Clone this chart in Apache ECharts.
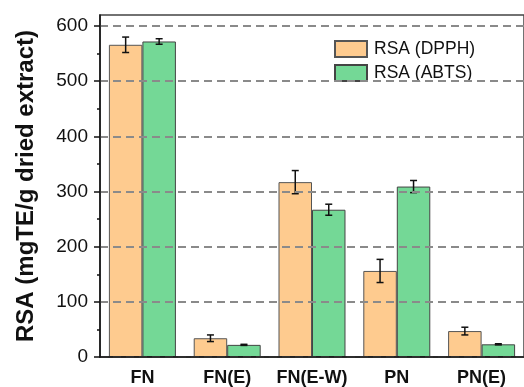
<!DOCTYPE html>
<html><head><meta charset="utf-8">
<script src="https://cdn.jsdelivr.net/npm/echarts@6/dist/echarts.min.js"></script>
<style>html,body{margin:0;padding:0;background:#fff}#c{width:524px;height:387px}</style>
</head><body><div id="c"></div>
<script>
var categories = ['FN', 'FN(E)', 'FN(E-W)', 'PN', 'PN(E)'];
var dpph = [566, 34, 317, 156, 47];
var dpphErr = [14, 6, 21, 21, 7];
var abts = [572, 22, 267, 309, 23];
var abtsErr = [5, 1, 10, 11, 1];
var majorTicks = [0, 100, 200, 300, 400, 500, 600];
var minorTicks = [50, 150, 250, 350, 450, 550];

var chart = echarts.init(document.getElementById('c'), null, {renderer: 'canvas'});
var BW = 0.395;
function errSeries(vals, errs, side) {
  return {
    type: 'custom',
    xAxisIndex: 0, yAxisIndex: 0,
    z: 5,
    silent: true,
    data: vals.map(function (v, i) { return [i, v, errs[i]]; }),
    renderItem: function (params, api) {
      var i = api.value(0), v = api.value(1), e = api.value(2);
      var band = api.size([1, 0])[0];
      var off = side * band * BW / 2;
      var top = api.coord([i, v + e]);
      var bot = api.coord([i, v - e]);
      var x = top[0] + off;
      var cw = 3.5;
      var st = {stroke: '#111', lineWidth: 1.5};
      return {type: 'group', children: [
        {type: 'line', shape: {x1: x, y1: top[1], x2: x, y2: bot[1]}, style: st},
        {type: 'line', shape: {x1: x - cw, y1: top[1], x2: x + cw, y2: top[1]}, style: st},
        {type: 'line', shape: {x1: x - cw, y1: bot[1], x2: x + cw, y2: bot[1]}, style: st}
      ]};
    }
  };
}
chart.setOption({
  animation: false,
  backgroundColor: '#fff',
  grid: {left: 100, top: 15, right: -6, bottom: 27, show: true, borderColor: '#444', borderWidth: 1.5, containLabel: false},
  legend: {
    orient: 'vertical', left: 329, top: 35, itemWidth: 32, itemHeight: 16, itemGap: 6,
    icon: 'rect',
    textStyle: {fontFamily: 'Liberation Sans, Arial', fontSize: 17.5, color: '#111', padding: [0, 0, 0, 2]},
    data: ['RSA (DPPH)', 'RSA (ABTS)']
  },
  xAxis: [{
    type: 'category', data: categories,
    axisLine: {lineStyle: {color: '#111', width: 1.5}},
    axisTick: {alignWithLabel: true, interval: 0, length: 6, lineStyle: {color: '#111', width: 1.5}},
    axisLabel: {interval: 0, hideOverlap: false, fontFamily: 'Liberation Sans, Arial', fontWeight: 'bold', fontSize: 18, color: '#111', margin: 12},
    z: 10
  }, {
    type: 'category', data: categories, position: 'bottom',
    axisLine: {show: false},
    axisTick: {interval: 0, length: 3, lineStyle: {color: '#111', width: 1.5}},
    axisLabel: {show: false}
  }],
  yAxis: [{
    type: 'value', min: 0, max: 620,
    name: 'RSA (mgTE/g dried extract)', nameLocation: 'middle', nameGap: 62,
    nameTextStyle: {fontFamily: 'Liberation Sans, Arial', fontWeight: 'bold', fontSize: 24, color: '#111'},
    axisLine: {show: true, lineStyle: {color: '#111', width: 1.5}},
    axisTick: {show: true, length: 6, customValues: majorTicks, lineStyle: {color: '#111', width: 1.5}},
    axisLabel: {customValues: majorTicks, fontFamily: 'Liberation Sans, Arial', fontSize: 19, color: '#111', margin: 12},
    splitLine: {show: true, lineStyle: {color: '#8a8a8a', width: 2, type: [8, 5]}},
    z: 10
  }, {
    type: 'value', min: 0, max: 620, position: 'left',
    axisLine: {show: false},
    axisTick: {show: true, length: 3, customValues: minorTicks, lineStyle: {color: '#111', width: 1.5}},
    axisLabel: {show: false},
    splitLine: {show: false}
  }, {
    type: 'value', min: 0, max: 620, position: 'left',
    axisLine: {show: false},
    axisTick: {show: true, inside: true, length: 3, customValues: majorTicks, lineStyle: {color: '#111', width: 1.5}},
    axisLabel: {show: false},
    splitLine: {show: false}
  }],
  series: [{
    name: 'RSA (DPPH)', type: 'bar', data: dpph, barWidth: (BW * 100) + '%', barGap: '0%',
    itemStyle: {color: '#FECB8F', borderColor: '#555', borderWidth: 1}
  }, {
    name: 'RSA (ABTS)', type: 'bar', data: abts, barWidth: (BW * 100) + '%', barGap: '0%',
    itemStyle: {color: '#74D896', borderColor: '#444', borderWidth: 1}
  },
  errSeries(dpph, dpphErr, -1),
  errSeries(abts, abtsErr, 1)
  ]
});
</script></body></html>
